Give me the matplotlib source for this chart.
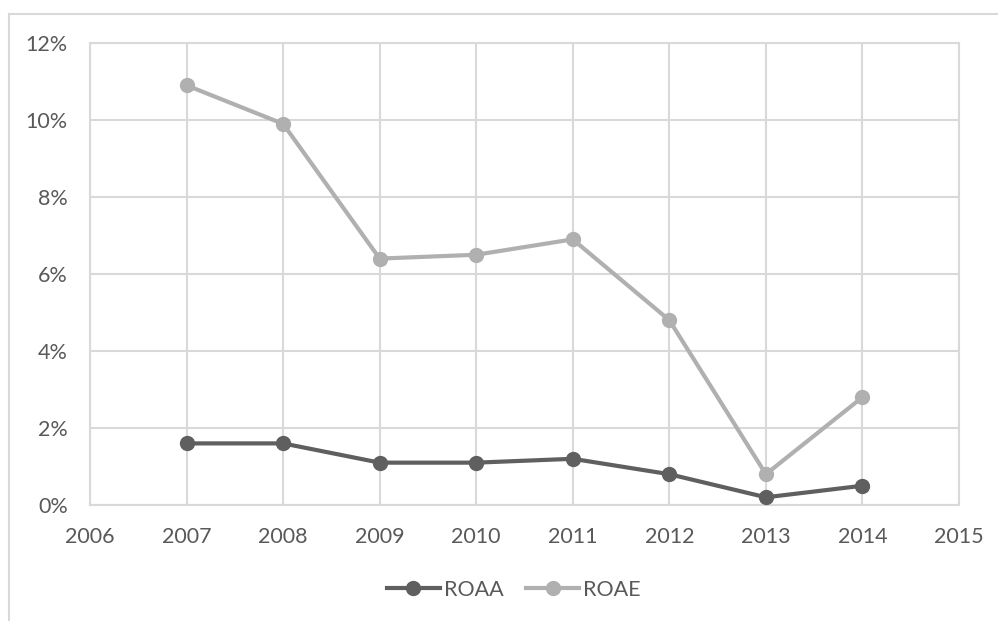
import matplotlib
matplotlib.use("Agg")
import matplotlib.pyplot as plt
from matplotlib.lines import Line2D
from matplotlib.ticker import FuncFormatter, MultipleLocator

years = [2007, 2008, 2009, 2010, 2011, 2012, 2013, 2014]
roaa = [1.6, 1.6, 1.1, 1.1, 1.2, 0.8, 0.2, 0.5]
roae = [10.9, 9.9, 6.4, 6.5, 6.9, 4.8, 0.8, 2.8]
series_names = ["ROAA", "ROAE"]

plt.rcParams["font.family"] = ["Lato", "DejaVu Sans"]

fig = plt.figure(figsize=(9.98, 6.21), dpi=100)
ax = fig.add_axes([90 / 998, 1 - 505 / 621, (959 - 90) / 998, (505 - 43) / 621])

text_col = "#595959"
grid_col = "#d9d9d9"
c_roaa = "#5f5f5f"
c_roae = "#b0b0b0"

ax.plot(years, roaa, color=c_roaa, lw=3.0, marker="o", ms=10, label=series_names[0], zorder=3)
ax.plot(years, roae, color=c_roae, lw=3.0, marker="o", ms=10, label=series_names[1], zorder=3)

ax.set_xlim(2006, 2015)
ax.set_ylim(0, 12)
ax.xaxis.set_major_locator(MultipleLocator(1))
ax.yaxis.set_major_locator(MultipleLocator(2))
ax.xaxis.set_major_formatter(FuncFormatter(lambda v, p: f"{int(v)}"))
ax.yaxis.set_major_formatter(FuncFormatter(lambda v, p: f"{int(v)}%"))

ax.grid(True, color=grid_col, lw=1.5)
ax.set_axisbelow(True)
for s in ax.spines.values():
    s.set_color(grid_col)
    s.set_linewidth(1.5)
ax.tick_params(length=0, labelsize=15.5, colors=text_col, pad=16)

handles = [Line2D([], [], color=c_roaa, lw=3.0, marker="o", ms=10),
           Line2D([], [], color=c_roae, lw=3.0, marker="o", ms=10)]
leg = fig.legend(handles, series_names, loc="center", bbox_to_anchor=(514 / 998, 1 - 590 / 621),
                 ncol=2, frameon=False, fontsize=15.5, handlelength=2.45, handletextpad=0.2,
                 columnspacing=1.05)
for t in leg.get_texts():
    t.set_color(text_col)

# outer chart frame
fig.add_artist(Line2D([9 / 998, 9 / 998], [0, 1 - 14 / 621], color=grid_col, lw=1.5,
                      transform=fig.transFigure))
fig.add_artist(Line2D([9 / 998, 1], [1 - 14 / 621, 1 - 14 / 621], color=grid_col, lw=1.5,
                      transform=fig.transFigure))

fig.savefig("out.png", dpi=100)
